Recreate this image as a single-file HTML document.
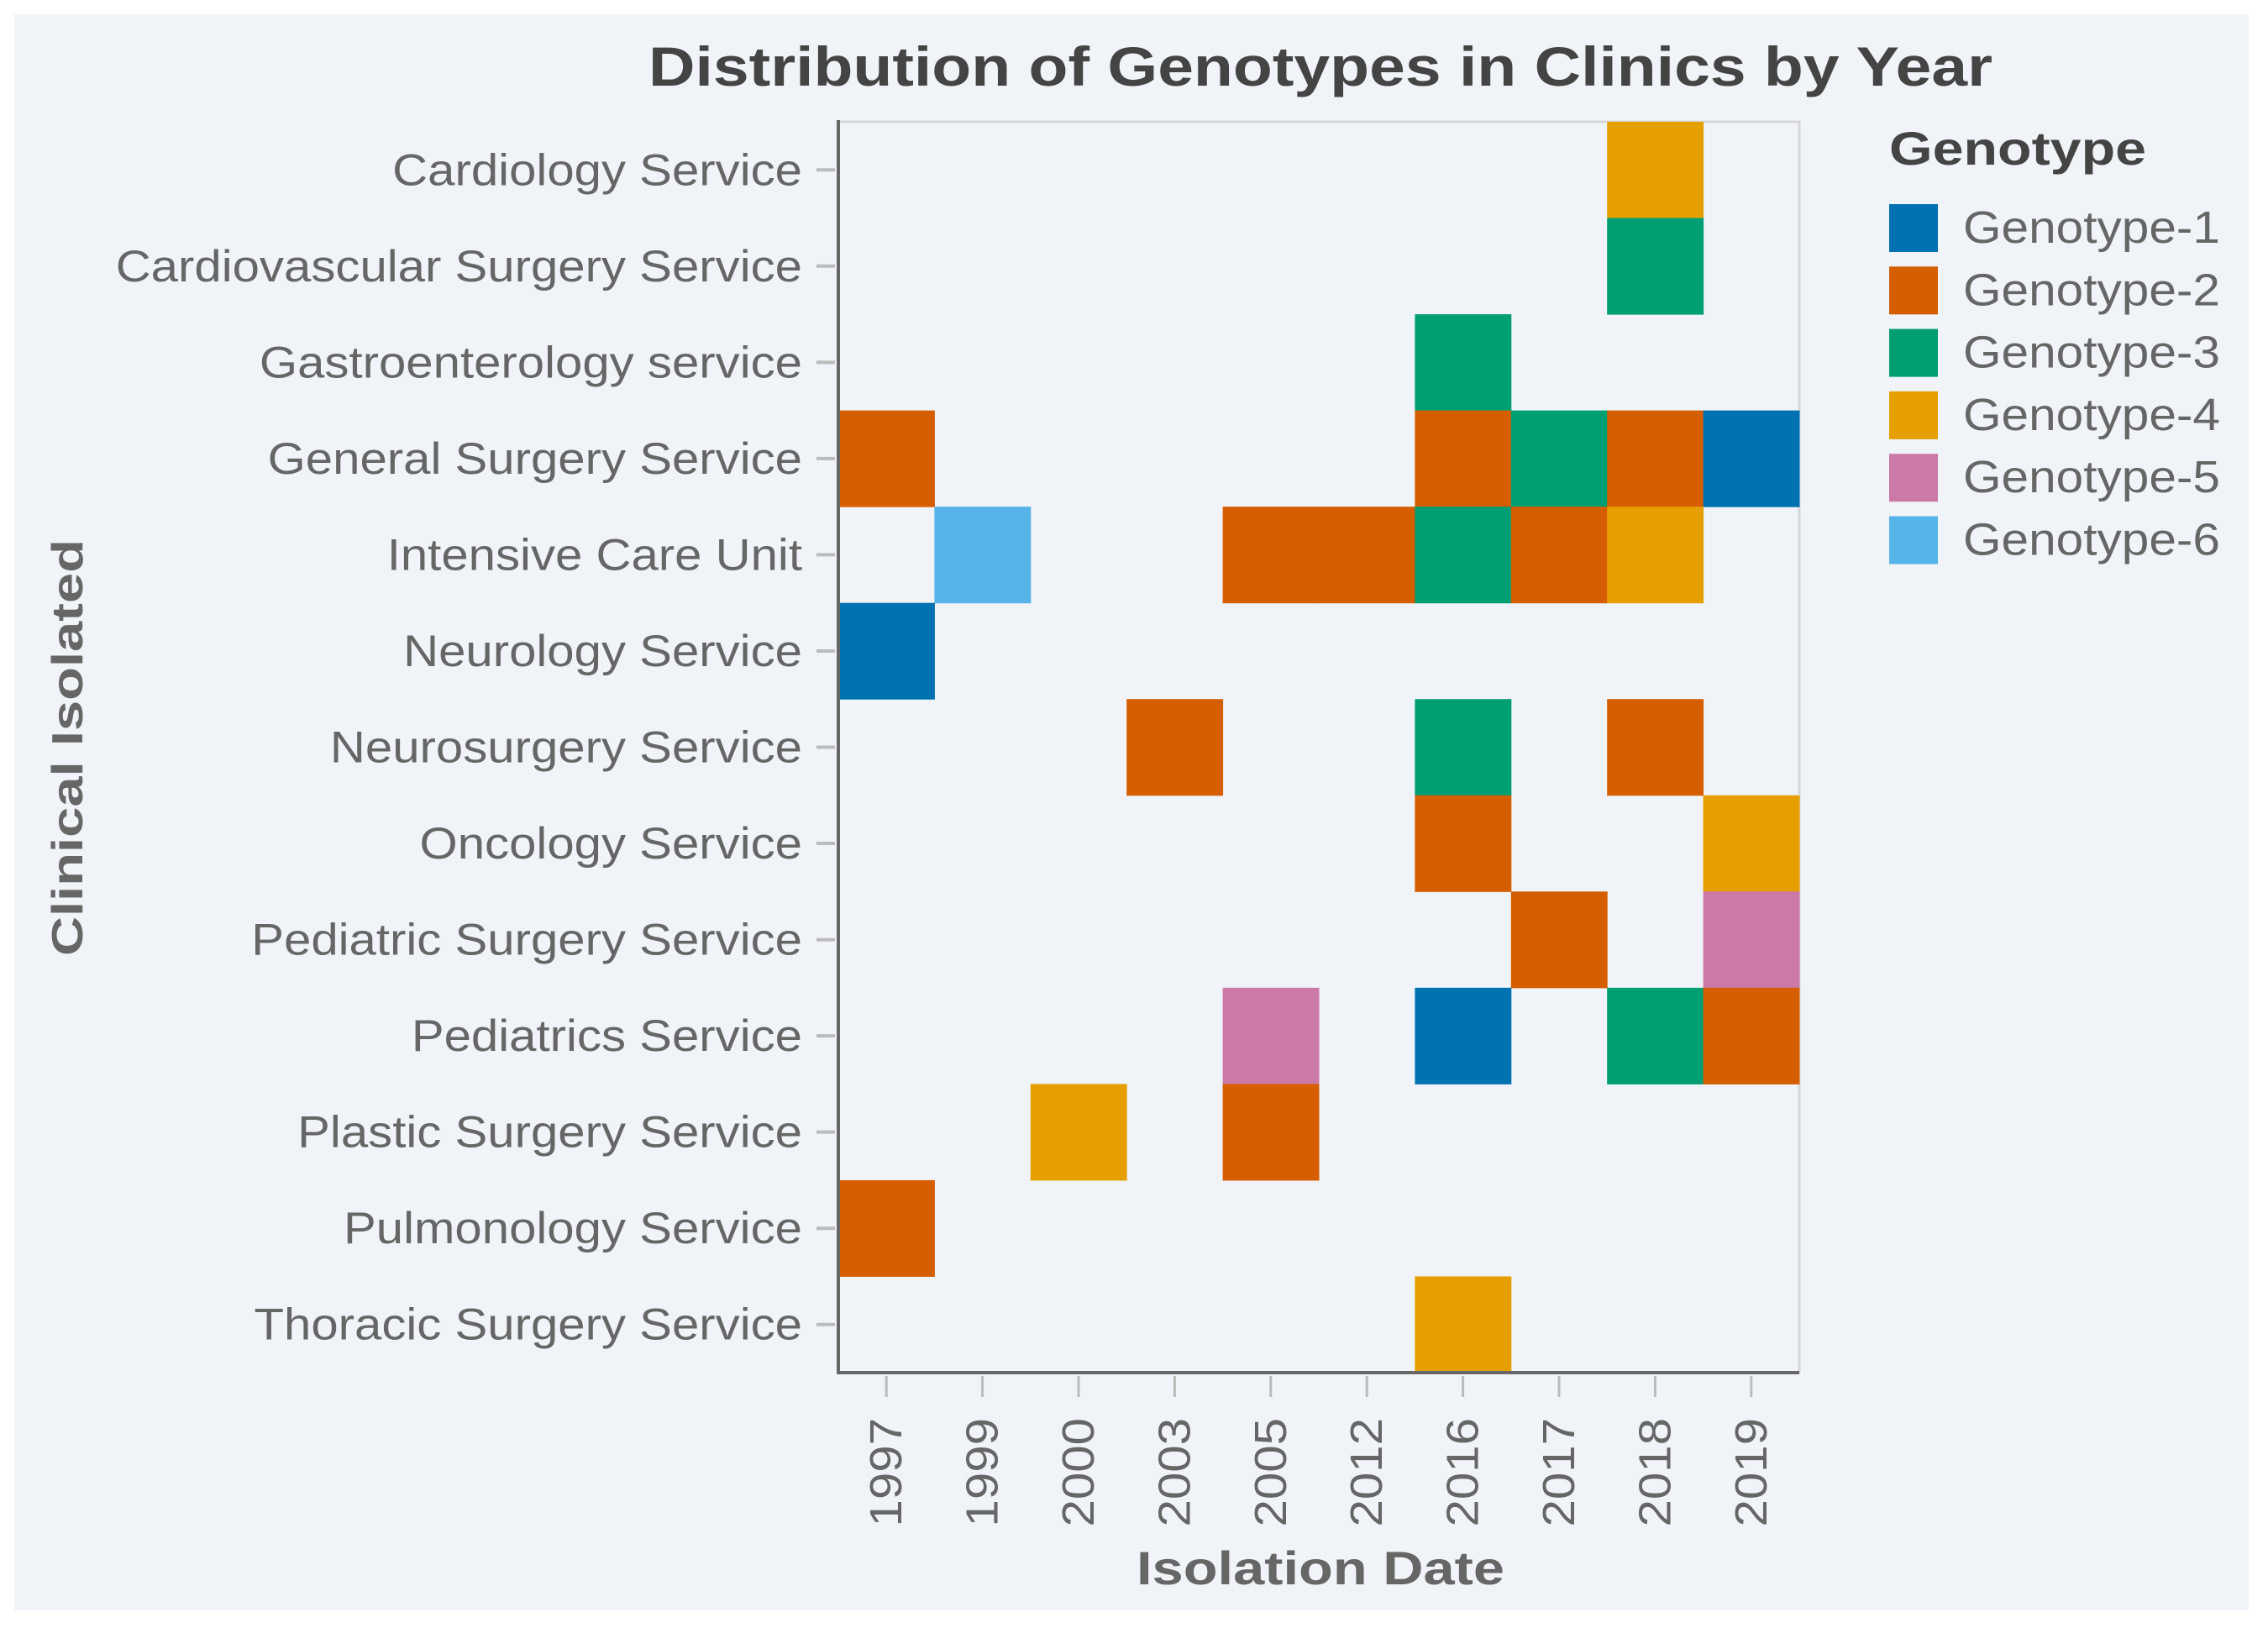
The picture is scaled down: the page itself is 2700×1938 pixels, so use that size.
<!DOCTYPE html>
<html><head><meta charset="utf-8"><style>
html,body{margin:0;padding:0;background:#fff;}
svg{display:block;}
text{font-family:"Liberation Sans",sans-serif;}
</style></head><body>
<svg id="chart" width="2700" height="1938" xmlns="http://www.w3.org/2000/svg">
<rect x="17" y="17" width="2660" height="1900" fill="#f0f3f8"/>
<text x="1572" y="102" text-anchor="middle" font-size="66" font-weight="bold" fill="#444" textLength="1600" lengthAdjust="spacingAndGlyphs">Distribution of Genotypes in Clinics by Year</text>
<g id="plot"></g>
<text transform="translate(98,890) rotate(-90)" text-anchor="middle" font-size="52" font-weight="bold" fill="#666" textLength="496" lengthAdjust="spacingAndGlyphs">Clinical Isolated</text>
<text x="1572" y="1886" text-anchor="middle" font-size="56" font-weight="bold" fill="#666" textLength="438" lengthAdjust="spacingAndGlyphs">Isolation Date</text>
<g id="legend">
<text x="2249" y="196" font-size="56" font-weight="bold" fill="#444" textLength="306" lengthAdjust="spacingAndGlyphs">Genotype</text>
</g>
</svg>
<script>
const clinics = ["Cardiology Service","Cardiovascular Surgery Service","Gastroenterology service","General Surgery Service","Intensive Care Unit","Neurology Service","Neurosurgery Service","Oncology Service","Pediatric Surgery Service","Pediatrics Service","Plastic Surgery Service","Pulmonology Service","Thoracic Surgery Service"];
const years = ["1997","1999","2000","2003","2005","2012","2016","2017","2018","2019"];
const genotypes = ["Genotype-1","Genotype-2","Genotype-3","Genotype-4","Genotype-5","Genotype-6"];
const cellClinic = ["Cardiology Service","Cardiovascular Surgery Service","Gastroenterology service",
"General Surgery Service","General Surgery Service","General Surgery Service","General Surgery Service","General Surgery Service",
"Intensive Care Unit","Intensive Care Unit","Intensive Care Unit","Intensive Care Unit","Intensive Care Unit","Intensive Care Unit",
"Neurology Service","Neurosurgery Service","Neurosurgery Service","Neurosurgery Service",
"Oncology Service","Oncology Service","Pediatric Surgery Service","Pediatric Surgery Service",
"Pediatrics Service","Pediatrics Service","Pediatrics Service","Pediatrics Service",
"Plastic Surgery Service","Plastic Surgery Service","Pulmonology Service","Thoracic Surgery Service"];
const cellYear = ["2018","2018","2016",
"1997","2016","2017","2018","2019",
"1999","2005","2012","2016","2017","2018",
"1997","2003","2016","2018",
"2016","2019","2017","2019",
"2005","2016","2018","2019",
"2000","2005","1997","2016"];
const cellGenotype = ["Genotype-4","Genotype-3","Genotype-3",
"Genotype-2","Genotype-2","Genotype-3","Genotype-2","Genotype-1",
"Genotype-6","Genotype-2","Genotype-2","Genotype-3","Genotype-2","Genotype-4",
"Genotype-1","Genotype-2","Genotype-3","Genotype-2",
"Genotype-2","Genotype-4","Genotype-2","Genotype-5",
"Genotype-5","Genotype-1","Genotype-3","Genotype-2",
"Genotype-4","Genotype-2","Genotype-2","Genotype-4"];

const colors = ["#0072b2","#d55e00","#009e73","#e69f00","#cc79a7","#56b4e9"];
const NS = "http://www.w3.org/2000/svg";
const X0 = 998, X1 = 2142, Y0 = 145, Y1 = 1634;
const bw = (X1 - X0) / years.length, bh = (Y1 - Y0) / clinics.length;
const xScale = y => X0 + years.indexOf(y) * bw;
const yScale = c => Y0 + clinics.indexOf(c) * bh;
const colorOf = g => colors[genotypes.indexOf(g)];
function mk(tag, attrs, parent){const e=document.createElementNS(NS,tag);for(const k in attrs)e.setAttribute(k,attrs[k]);parent.appendChild(e);return e;}
const plot = document.getElementById('plot');
let fr = mk('rect',{x:X0,y:Y0,width:X1-X0,height:Y1-Y0,fill:'none',stroke:'#d6d6d6','stroke-width':3},plot);


for (let i=0;i<cellClinic.length;i++){
  const r = mk('rect',{x:xScale(cellYear[i]),y:yScale(cellClinic[i]),width:bw+0.5,height:bh+0.5,fill:colorOf(cellGenotype[i])},plot);
  
  
}
clinics.forEach((c,i)=>{
  const cy = yScale(c)+bh/2;
  const t = mk('line',{x1:972,x2:994,y1:cy,y2:cy,stroke:'#bbb','stroke-width':4},plot);
  
  
  const l = mk('text',{transform:`translate(955,${cy+18}) scale(1.14,1.03)`,x:0,y:0,'text-anchor':'end','font-size':51,fill:'#666'},plot);
  l.textContent = c;
  
  
});
years.forEach((y,i)=>{
  const cx = xScale(y)+bw/2;
  const t = mk('line',{x1:cx,x2:cx,y1:1638,y2:1663,stroke:'#bbb','stroke-width':3},plot);
  
  
  const l = mk('text',{transform:`translate(${cx+18},1688) rotate(-90) scale(1.12,1.03)`,'text-anchor':'end','font-size':52,fill:'#666'},plot);
  l.textContent = y;
  
  
});
let ya = mk('line',{x1:X0,x2:X0,y1:Y0-2,y2:Y1+2,stroke:'#666','stroke-width':4},plot);


let xa = mk('line',{x1:X0-2,x2:X1,y1:Y1,y2:Y1,stroke:'#666','stroke-width':4},plot);


const legend = document.getElementById('legend');
genotypes.forEach((g,i)=>{
  const y = 243 + i*74.3;
  const s = mk('rect',{x:2249,y:y,width:58,height:57,fill:colors[i]},legend);
  
  
  const l = mk('text',{x:2337,y:y+46,'font-size':54,fill:'#666',textLength:306,lengthAdjust:'spacingAndGlyphs'},legend);
  l.textContent = g;
  
  
});
</script>
</body></html>
